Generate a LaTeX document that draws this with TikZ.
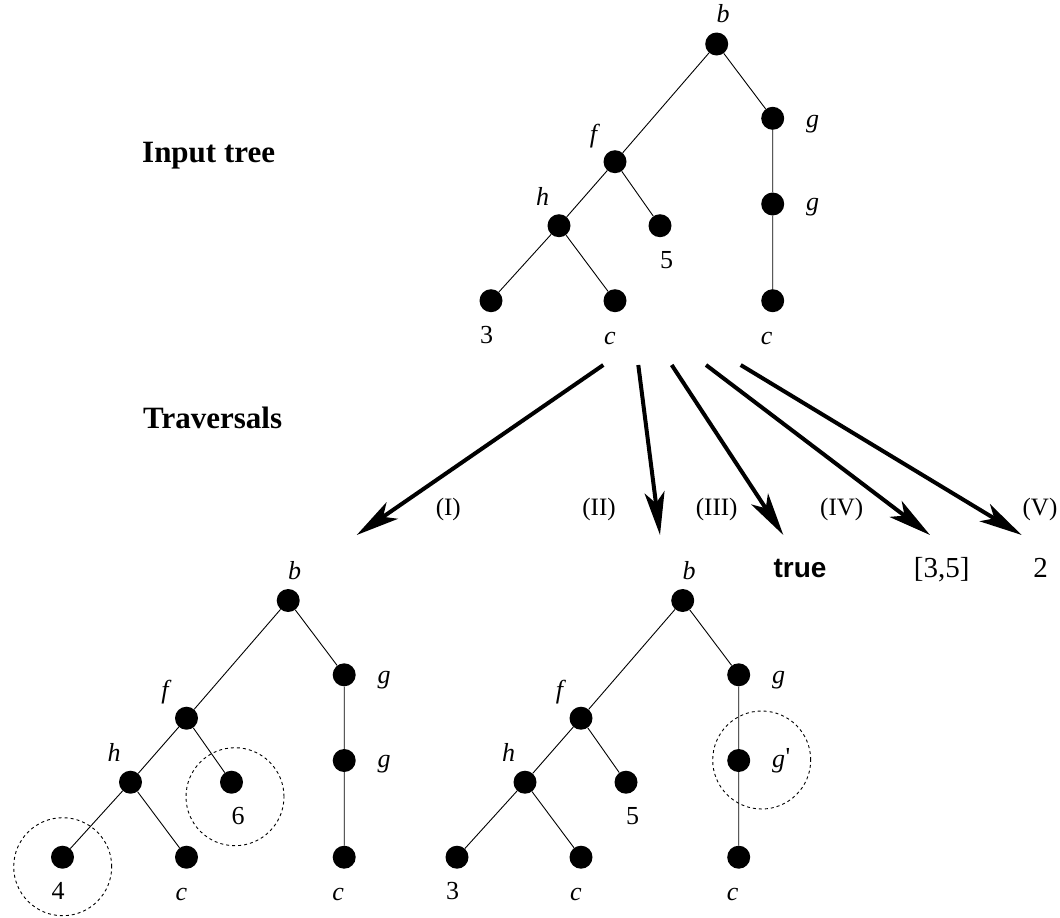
\documentclass[tikz,border=0pt]{standalone}
\usepackage{fontspec}
\setmainfont{Liberation Serif}
\setsansfont{Liberation Sans}
\usetikzlibrary{arrows.meta}
\tikzset{
 dot/.style={circle,fill=black,minimum size=23pt,inner sep=0pt},
 edge/.style={line width=0.9pt},
 lab/.style={font=\fontsize{26}{29}\selectfont,inner sep=0pt,anchor=base},
 glab/.style={font=\fontsize{26}{29}\selectfont,inner sep=0pt,anchor=base west},
 head/.style={font=\fontsize{31}{36}\selectfont\bfseries,inner sep=0pt,anchor=base west},
 res/.style={font=\fontsize{29}{32}\selectfont,inner sep=0pt,anchor=base},
 tlab/.style={font=\fontsize{25}{28}\selectfont,inner sep=0pt,anchor=base},
 trav/.style={line width=4pt,-{Stealth[length=43pt,width=20pt,inset=11pt]}},
 ring/.style={circle,draw,line width=0.9pt,dash pattern=on 3pt off 3pt,minimum size=98pt,inner sep=0pt},
}
\newcommand\drawtree[5]{%
 \begin{scope}[shift={#2}]
 \node[dot] (#1b) at (716.7,44) {};
 \node[dot] (#1ga) at (772.7,118.3) {};
 \node[dot] (#1f) at (615,161.7) {};
 \node[dot] (#1gb) at (772.7,204) {};
 \node[dot] (#1h) at (559,225.7) {};
 \node[dot] (#1n) at (660,225.7) {};
 \node[dot] (#1l) at (491,300.7) {};
 \node[dot] (#1c) at (615,300.7) {};
 \node[dot] (#1cc) at (772.7,300.7) {};
 \draw[edge] (#1b)--(#1f) (#1b)--(#1ga) (#1ga)--(#1gb) (#1gb)--(#1cc)
   (#1f)--(#1h) (#1f)--(#1n) (#1h)--(#1l) (#1h)--(#1c);
 \node[lab] (#1Lb) at (723,22.8) {\textit{b}};
 \node[glab] (#1Lga) at (806,127) {\textit{g}};
 \node[glab] (#1Lgb) at (806,210.5) {#5};
 \node[lab] (#1Lf) at (595,142.3) {\textit{f}};
 \node[lab] (#1Lh) at (542.7,205) {\textit{h}};
 \node[lab] (#1Ln) at (666.7,268.3) {#4};
 \node[lab] (#1Ll) at (486.7,343.3) {#3};
 \node[lab] (#1Lc) at (610,344) {\textit{c}};
 \node[lab] (#1Lcc) at (766.7,344) {\textit{c}};
 \end{scope}}
\begin{document}
\begin{tikzpicture}[x=1pt,y=-1pt]
\useasboundingbox (0,0) rectangle (1060,918);
% headers
\node[head] (hin) at (142,162.7) {Input tree};
\node[head] (htr) at (143,428.3) {Traversals};
% trees
\drawtree{t}{(0,0)}{3}{5}{\textit{g}}
\drawtree{l}{(-428.5,556.5)}{4}{6}{\textit{g}}
\drawtree{m}{(-34,556.5)}{3}{5}{\textit{g}\kern0.5pt\raisebox{2pt}{\textquotesingle}}
% dashed rings
\node[ring] (r6) at (235,796.7) {};
\node[ring] (r4) at (62.7,866.7) {};
\node[ring] (rg) at (761.7,760) {};
% arrows
\coordinate (s1) at (603.3,365); \coordinate (e1) at (356.7,535);
\coordinate (s2) at (638.3,365); \coordinate (e2) at (660,535);
\coordinate (s3) at (671.7,365); \coordinate (e3) at (783.3,535);
\coordinate (s4) at (706,365);   \coordinate (e4) at (930,535);
\coordinate (s5) at (740.7,365); \coordinate (e5) at (1021.7,535);
\draw[trav] (s1) -- (e1);
\draw[trav] (s2) -- (e2);
\draw[trav] (s3) -- (e3);
\draw[trav] (s4) -- (e4);
\draw[trav] (s5) -- (e5);
\node[tlab] (l1) at (448.3,515) {(I)};
\node[tlab] (l2) at (599,515) {(II)};
\node[tlab] (l3) at (716.7,515) {(III)};
\node[tlab] (l4) at (841.7,515) {(IV)};
\node[tlab] (l5) at (1040,515) {(V)};
% results
\node[res,font=\fontsize{28}{32}\selectfont\sffamily\bfseries] (rtrue) at (800,577) {true};
\node[res] (r35) at (941.7,577) {[3,5]};
\node[res] (r2) at (1040.7,577) {2};
\end{tikzpicture}
\end{document}
